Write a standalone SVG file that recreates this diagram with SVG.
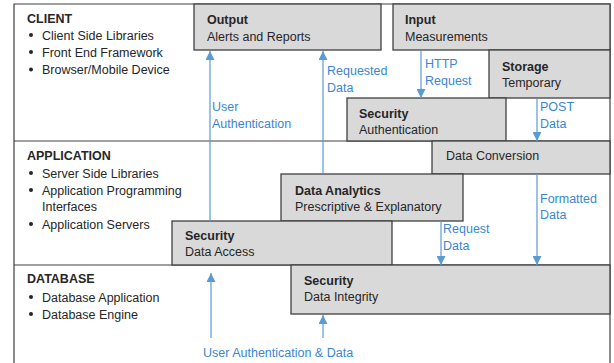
<svg xmlns="http://www.w3.org/2000/svg" width="614" height="363" viewBox="0 0 614 363">
<style>
text{font-family:"Liberation Sans",Arial,sans-serif;font-size:12.5px;fill:#262626}
.b{font-weight:bold}
.lbl{fill:#3a86d0}
.box{fill:#d9d9d9;stroke:#404040;stroke-width:1.3}
.frame{fill:none;stroke:#404040;stroke-width:1.2}
.arr{fill:none;stroke:#5b9bd5;stroke-width:1.2;marker-end:url(#ah)}
.dot{fill:#262626}
</style>
<defs>
<marker id="ah" viewBox="0 0 10 10" refX="10" refY="5" markerWidth="9" markerHeight="9" markerUnits="userSpaceOnUse" orient="auto">
<path d="M0,0 L10,5 L0,10 z" fill="#5b9bd5"/>
</marker>
</defs>
<rect width="614" height="363" fill="#ffffff"/>
<g id="frame">
<path class="frame" d="M14,363 V4 H610 V363 M14,141 H610 M14,265 H610"/>
</g>
<g id="layer-client">
<text class="b" x="27" y="23">CLIENT</text>
<circle class="dot" cx="31" cy="35" r="2"/><text x="42" y="39.5">Client Side Libraries</text>
<circle class="dot" cx="31" cy="52" r="2"/><text x="42" y="56.5">Front End Framework</text>
<circle class="dot" cx="31" cy="69.5" r="2"/><text x="42" y="74">Browser/Mobile Device</text>
</g>
<g id="layer-application">
<text class="b" x="27" y="160">APPLICATION</text>
<circle class="dot" cx="31" cy="173" r="2"/><text x="42" y="177.5">Server Side Libraries</text>
<circle class="dot" cx="31" cy="190" r="2"/><text x="42" y="194.5">Application Programming</text>
<text x="42" y="211">Interfaces</text>
<circle class="dot" cx="31" cy="224" r="2"/><text x="42" y="228.5">Application Servers</text>
</g>
<g id="layer-database">
<text class="b" x="27" y="283">DATABASE</text>
<circle class="dot" cx="31" cy="297" r="2"/><text x="42" y="301.5">Database Application</text>
<circle class="dot" cx="31" cy="314" r="2"/><text x="42" y="318.5">Database Engine</text>
</g>
<g id="node-output">
<rect class="box" x="194" y="4" width="187" height="46"/>
<text class="b" x="207" y="24">Output</text>
<text x="207" y="40.5">Alerts and Reports</text>
</g>
<g id="node-input">
<rect class="box" x="393" y="4" width="217" height="46"/>
<text class="b" x="405" y="24">Input</text>
<text x="405" y="40.5">Measurements</text>
</g>
<g id="node-storage">
<rect class="box" x="489" y="50" width="121" height="48"/>
<text class="b" x="502" y="71">Storage</text>
<text x="502" y="87">Temporary</text>
</g>
<g id="node-security-auth">
<rect class="box" x="347" y="98" width="159" height="43"/>
<text class="b" x="359" y="118">Security</text>
<text x="359" y="134">Authentication</text>
</g>
<g id="node-data-conversion">
<rect class="box" x="432" y="141" width="178" height="33"/>
<text x="446" y="160">Data Conversion</text>
</g>
<g id="node-data-analytics">
<rect class="box" x="281" y="174" width="182" height="47"/>
<text class="b" x="295" y="194.5">Data Analytics</text>
<text x="295" y="211">Prescriptive &amp; Explanatory</text>
</g>
<g id="node-security-access">
<rect class="box" x="172" y="221" width="220" height="44"/>
<text class="b" x="185" y="240">Security</text>
<text x="185" y="256">Data Access</text>
</g>
<g id="node-security-integrity">
<rect class="box" x="291" y="265" width="319" height="49"/>
<text class="b" x="304" y="285">Security</text>
<text x="304" y="301">Data Integrity</text>
</g>
<g id="connectors">
<path class="arr" d="M210,221 V51"/>
<path class="arr" d="M323,174 V51"/>
<path class="arr" d="M421,50 V98"/>
<path class="arr" d="M537,98 V141"/>
<path class="arr" d="M537,174 V265"/>
<path class="arr" d="M441,221 V265"/>
<path class="arr" d="M211,338 V273"/>
<path class="arr" d="M323,338 V315"/>
</g>
<g id="labels">
<text class="lbl" x="212" y="111">User</text>
<text class="lbl" x="212" y="128">Authentication</text>
<text class="lbl" x="327" y="75">Requested</text>
<text class="lbl" x="327" y="92">Data</text>
<text class="lbl" x="425" y="68">HTTP</text>
<text class="lbl" x="425" y="85">Request</text>
<text class="lbl" x="540" y="111">POST</text>
<text class="lbl" x="540" y="128">Data</text>
<text class="lbl" x="540" y="203">Formatted</text>
<text class="lbl" x="540" y="219">Data</text>
<text class="lbl" x="443" y="233">Request</text>
<text class="lbl" x="443" y="250">Data</text>
<text class="lbl" x="203" y="357">User Authentication &amp; Data</text>
</g>
</svg>
